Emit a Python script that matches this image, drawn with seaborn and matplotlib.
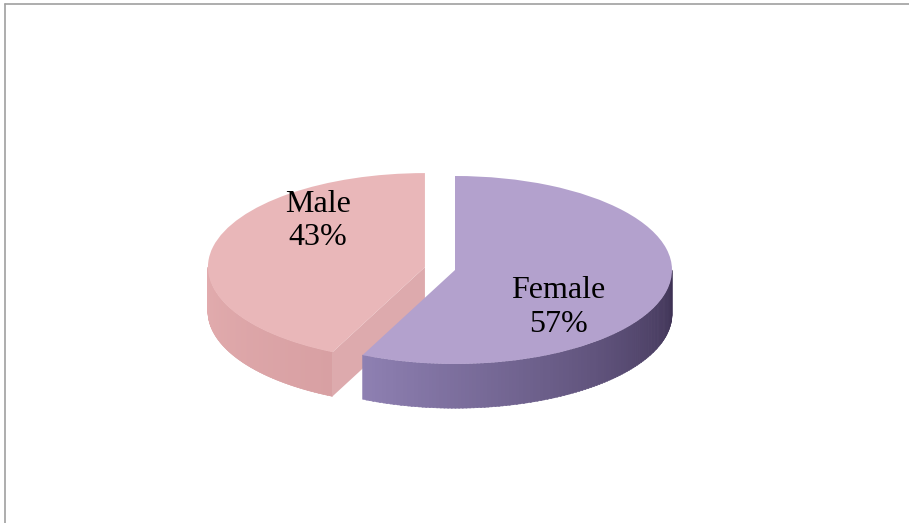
import numpy as np
import matplotlib
matplotlib.use("Agg")
import matplotlib.pyplot as plt
import seaborn as sns
from matplotlib.collections import PolyCollection
from matplotlib.lines import Line2D

# --- data ---
labels = ["Male", "Female"]
shares = [43, 57]
explode = [0.142, 0.0]

# --- style ---
top_colors = ["#E9B7B9", "#B3A1CD"]
side_start = [(226, 172, 174), (142, 128, 178)]   # colour at the first visible angle
side_end = [(216, 160, 163), (62, 50, 84)]        # colour at the last visible angle
face_color = "#DDAAAD"
depth = 0.47   # thickness of the disc in y data units

sns.set_theme(style="white")
plt.rcParams["font.family"] = ["Liberation Serif", "DejaVu Serif"]

fig = plt.figure(figsize=(9.09, 5.23), dpi=100)
ax = fig.add_axes([0, 0, 1, 1])

wedges, _ = ax.pie(shares, colors=top_colors, startangle=90, explode=explode,
                   counterclock=True, radius=1, center=(0, 0),
                   wedgeprops=dict(linewidth=0))

# squash the pie into an ellipse (1 x-unit = 217 px, 1 y-unit = 94 px)
ax.set_aspect("auto")
ax.set_xlim(-455 / 217, (909 - 455) / 217)
ax.set_ylim(-253 / 94, 270 / 94)
ax.axis("off")


def shade(c0, c1, t):
    c = (1 - t) * np.array(c0) + t * np.array(c1)
    return tuple(c / 255)


# extruded side of each slice, built from the wedge geometry
for i, w in enumerate(wedges):
    cx, cy = w.center
    r = w.r
    t1, t2 = w.theta1, w.theta2
    z_side = 1 if i == 0 else 3
    # cut face at the end angle, drawn when its outward normal faces the viewer
    a_end = np.radians(t2)
    if np.sin(a_end + np.pi / 2) < 0:
        ex, ey = cx + r * np.cos(a_end), cy + r * np.sin(a_end)
        ax.fill([cx, ex, ex, cx], [cy, ey, ey - depth, cy - depth],
                color=face_color, linewidth=0, zorder=z_side)
    # front part of the rim: angles where sin < 0 (between 180 and 360)
    lo = max(t1, 180)
    hi = min(t2, 360)
    if hi > lo:
        angs = np.linspace(lo, hi, 120)
        polys, cols = [], []
        for k in range(len(angs) - 1):
            a0, a1 = np.radians(angs[k]), np.radians(min(angs[k + 1] + 0.3, hi))
            x0, y0 = cx + r * np.cos(a0), cy + r * np.sin(a0)
            x1, y1 = cx + r * np.cos(a1), cy + r * np.sin(a1)
            polys.append([(x0, y0), (x1, y1), (x1, y1 - depth), (x0, y0 - depth)])
            cols.append(shade(side_start[i], side_end[i], k / (len(angs) - 2)))
        pc = PolyCollection(polys, facecolors=cols, edgecolors=cols,
                            linewidths=0.4, zorder=z_side)
        ax.add_collection(pc)

wedges[0].set_zorder(2)
wedges[1].set_zorder(4)

# labels
label_pos = [(-0.631, 0.52), (0.475, -0.40)]
for lab, val, (lx, ly) in zip(labels, shares, label_pos):
    ax.text(lx, ly, f"{lab}\n{val}%", ha="center", va="center",
            fontsize=23, color="black", linespacing=1.2, zorder=6)

# chart-area border (left and top edges visible)
fig.add_artist(Line2D([4.5 / 909, 4.5 / 909], [0, 1 - 3.5 / 523],
                      transform=fig.transFigure, color="#A0A0A0", lw=1.2))
fig.add_artist(Line2D([4.5 / 909, 1], [1 - 3.5 / 523, 1 - 3.5 / 523],
                      transform=fig.transFigure, color="#A0A0A0", lw=1.2))

fig.savefig("out.png", dpi=100)
